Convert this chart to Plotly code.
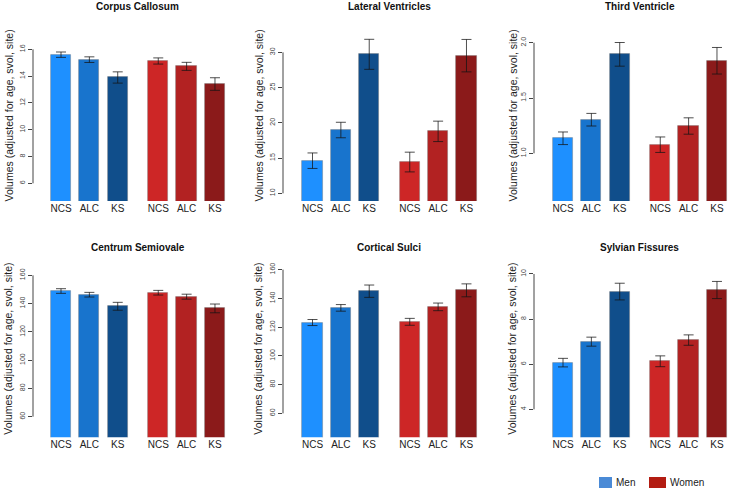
import plotly.graph_objects as go

W, H = 730, 492

groups = ["NCS", "ALC", "KS"]
sexes = ["Men", "Women"]

titles = ["Corpus Callosum", "Lateral Ventricles", "Third Ventricle",
          "Centrum Semiovale", "Cortical Sulci", "Sylvian Fissures"]

# means and error half-widths (Men NCS, ALC, KS / Women NCS, ALC, KS)
cc_men, cc_men_err = [15.60, 15.23, 13.90], [0.20, 0.21, 0.42]
cc_women, cc_women_err = [15.13, 14.73, 13.41], [0.23, 0.30, 0.47]

lv_men, lv_men_err = [14.63, 18.98, 29.72], [1.10, 1.10, 2.13]
lv_women, lv_women_err = [14.44, 18.79, 29.53], [1.40, 1.45, 2.30]

tv_men, tv_men_err = [1.136, 1.304, 1.895], [0.057, 0.057, 0.107]
tv_women, tv_women_err = [1.078, 1.247, 1.837], [0.070, 0.074, 0.120]

cs_men, cs_men_err = [148.9, 146.3, 138.1], [1.65, 1.65, 2.8]
cs_women, cs_women_err = [147.7, 144.9, 136.6], [1.65, 1.75, 3.1]

sul_men, sul_men_err = [123.2, 133.4, 145.0], [2.1, 2.3, 4.3]
sul_women, sul_women_err = [123.7, 134.1, 145.6], [2.4, 2.65, 4.5]

syl_men, syl_men_err = [6.07, 7.00, 9.22], [0.19, 0.20, 0.37]
syl_women, syl_women_err = [6.13, 7.07, 9.29], [0.24, 0.23, 0.38]

ticks_cc = [6, 8, 10, 12, 14, 16]
ticks_lv = [10, 15, 20, 25, 30]
ticks_tv = [1.0, 1.5, 2.0]
ticks_cs = [60, 80, 100, 120, 140, 160]
ticks_sul = [60, 80, 100, 120, 140, 160]
ticks_syl = [4, 6, 8, 10]
ticktext_tv = ["1.0", "1.5", "2.0"]

men_colors = ["#1E90FF", "#1874CD", "#104E8B"]
women_colors = ["#CD2626", "#B22222", "#8B1A1A"]
legend_colors = ["#4A8AD6", "#B31C12"]

panels = [
    (cc_men, cc_men_err, cc_women, cc_women_err, ticks_cc, None, [4.681, 17.443]),
    (lv_men, lv_men_err, lv_women, lv_women_err, ticks_lv, None, [8.912, 33.17]),
    (tv_men, tv_men_err, tv_women, tv_women_err, ticks_tv, ticktext_tv, [0.569, 2.115]),
    (cs_men, cs_men_err, cs_women, cs_women_err, ticks_cs, None, [45.4, 170.85]),
    (sul_men, sul_men_err, sul_women, sul_women_err, ticks_sul, None, [43.35, 166.71]),
    (syl_men, syl_men_err, syl_women, syl_women_err, ticks_syl, None, [2.76, 10.62]),
]

# layout geometry (pixels)
unit = 20.26                       # px per bar-width unit
axis_px = [33, 283, 534]           # y-axis line position per column
first_px = [61, 312.5, 563]        # centre of first bar per column
row_px = [(30, 201), (260, 437.3)] # (top, bottom) per row
width_px = 200

# bar positions: 0.4 gap within a group, 1.0 gap between groups
positions = []
for g in range(len(sexes)):
    for i in range(len(groups)):
        positions.append(g * (len(groups) - 1) * 1.4 + g * 2.0 + i * 1.4)
labels = groups * len(sexes)
colors = men_colors + women_colors

FONT = "Arial, Liberation Sans, sans-serif"
fig = go.Figure()
layout = dict(
    width=W, height=H, margin=dict(l=0, r=0, t=0, b=0),
    paper_bgcolor="white", plot_bgcolor="white", showlegend=False,
    font=dict(family=FONT, color="#222"), bargap=0,
)
shapes = []
annotations = []

for k, (m, me, w, we, tks, ttxt, yr) in enumerate(panels):
    r, c = divmod(k, 3)
    idx = "" if k == 0 else str(k + 1)
    xa, ya = "x" + idx, "y" + idx
    vals = m + w
    errs = me + we
    fig.add_trace(go.Bar(
        x=positions, y=vals, width=1.0, xaxis=xa, yaxis=ya,
        marker=dict(color=colors, line=dict(color="rgba(120,120,120,0.55)", width=0.8)),
        error_y=dict(type="data", array=errs, visible=True, color="rgba(20,20,20,0.75)",
                     thickness=1, width=5),
        hoverinfo="x+y",
    ))
    left = axis_px[c]
    right = min(left + width_px, W)
    x0 = (left - first_px[c]) / unit
    x1 = x0 + (right - left) / unit
    top, bot = row_px[r]
    layout["xaxis" + idx] = dict(
        domain=[left / W, right / W], range=[x0, x1], anchor=ya,
        tickvals=positions, ticktext=labels, ticks="", showline=False,
        showgrid=False, zeroline=False, tickfont=dict(size=10, color="#222"),
        fixedrange=True,
    )
    layout["yaxis" + idx] = dict(
        domain=[1 - bot / H, 1 - top / H], range=yr, anchor=xa,
        tickvals=tks, ticktext=ttxt if ttxt else [str(t) for t in tks],
        ticks="outside", ticklen=4, tickcolor="#444", tickwidth=1,
        tickangle=-90, tickfont=dict(size=7, color="#444"),
        showline=False, showgrid=False, zeroline=False, fixedrange=True,
    )
    # axis line spanning first to last tick, R style
    shapes.append(dict(type="line", xref=xa + " domain", yref=ya,
                       x0=0, x1=0, y0=tks[0], y1=tks[-1],
                       line=dict(color="#444", width=1)))
    # panel title
    mid = (positions[0] - 0.5 + positions[-1] + 0.5) / 2
    annotations.append(dict(text="<b>" + titles[k] + "</b>", xref=xa, yref="paper",
                            x=mid, y=1 - (6 if r == 0 else 247) / H,
                            showarrow=False, font=dict(size=10, color="#111"),
                            xanchor="center", yanchor="middle"))
    # y title
    annotations.append(dict(text="Volumes (adjusted for age, svol, site)",
                            xref=xa + " domain", yref=ya + " domain",
                            x=0, y=0.5, xshift=-25 if c < 2 else -22,
                            textangle=-90, showarrow=False,
                            font=dict(size=10.5, color="#222"),
                            xanchor="center", yanchor="middle"))

# legend drawn in paper space
leg_boxes = [(599, 612), (649, 666)]
for (bx0, bx1), name, col in zip(leg_boxes, sexes, legend_colors):
    shapes.append(dict(type="rect", xref="paper", yref="paper",
                       x0=bx0 / W, x1=bx1 / W, y0=1 - 488 / H, y1=1 - 477 / H,
                       fillcolor=col, line=dict(width=0)))
    annotations.append(dict(text=name, xref="paper", yref="paper",
                            x=(bx1 + 2) / W, y=1 - 482.5 / H, xanchor="left",
                            yanchor="middle", showarrow=False,
                            font=dict(size=10, color="#222")))

layout["shapes"] = shapes
layout["annotations"] = annotations
fig.update_layout(**layout)
fig.write_html("out.html", config={"displayModeBar": False},
               post_script="document.body.style.margin='0';document.body.style.overflow='hidden';")
